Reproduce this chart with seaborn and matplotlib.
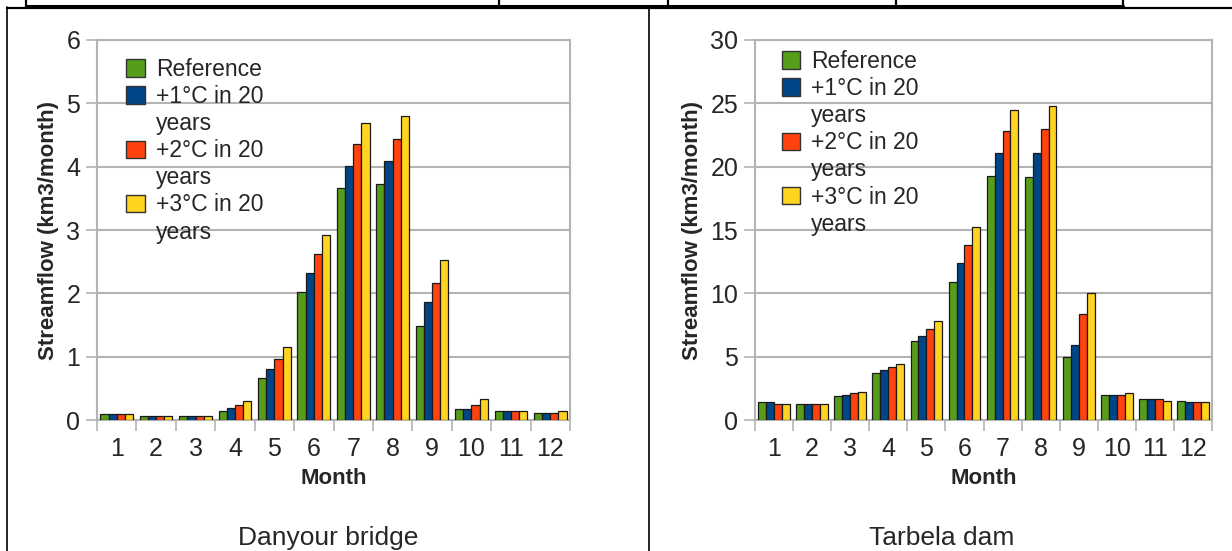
import pandas as pd
import seaborn as sns
import matplotlib.pyplot as plt
from matplotlib.patches import Patch
from matplotlib.lines import Line2D
from matplotlib.ticker import FixedLocator

# data
months = [1, 2, 3, 4, 5, 6, 7, 8, 9, 10, 11, 12]
scenarios = ["Reference", "+1°C in 20 years", "+2°C in 20 years", "+3°C in 20 years"]
colors = ["#579D1C", "#004586", "#FF420E", "#FFD320"]

danyour_ref = [0.09, 0.07, 0.07, 0.14, 0.67, 2.02, 3.66, 3.73, 1.48, 0.18, 0.14, 0.115]
danyour_p1 = [0.09, 0.07, 0.07, 0.19, 0.81, 2.32, 4.01, 4.09, 1.86, 0.18, 0.14, 0.115]
danyour_p2 = [0.09, 0.07, 0.07, 0.23, 0.97, 2.62, 4.36, 4.43, 2.17, 0.24, 0.14, 0.115]
danyour_p3 = [0.09, 0.07, 0.07, 0.30, 1.16, 2.92, 4.69, 4.80, 2.53, 0.33, 0.14, 0.14]

tarbela_ref = [1.40, 1.26, 1.87, 3.71, 6.26, 10.9, 19.3, 19.2, 5.0, 2.0, 1.63, 1.52]
tarbela_p1 = [1.40, 1.26, 1.97, 3.92, 6.63, 12.4, 21.1, 21.1, 5.9, 2.0, 1.63, 1.40]
tarbela_p2 = [1.26, 1.26, 2.10, 4.16, 7.20, 13.8, 22.8, 23.0, 8.4, 2.0, 1.63, 1.40]
tarbela_p3 = [1.26, 1.26, 2.20, 4.42, 7.80, 15.2, 24.5, 24.8, 10.0, 2.1, 1.50, 1.40]


def long_frame(series):
    rows = []
    for name, vals in zip(scenarios, series):
        for m, v in zip(months, vals):
            rows.append({"Month": str(m), "Scenario": name, "Flow": v})
    return pd.DataFrame(rows)


sns.set_style("white")
plt.rcParams["font.family"] = ["Liberation Sans", "DejaVu Sans"]

fig = plt.figure(figsize=(12.32, 5.51), dpi=100)
W, H = 1232, 551

grid_col = "#b3b3b3"

panels = [
    (danyour_ref, danyour_p1, danyour_p2, danyour_p3, 97, 570, 6, 1, "Danyour bridge", 328, 0.062, 0.953),
    (tarbela_ref, tarbela_p1, tarbela_p2, tarbela_p3, 755, 1212, 30, 5, "Tarbela dam", 942, 0.058, 0.974),
]

for ref, p1, p2, p3, x0, x1, ymax, ystep, title, tx, lx, ly in panels:
    ax = fig.add_axes([x0 / W, 1 - 420 / H, (x1 - x0) / W, 380 / H])
    df = long_frame([ref, p1, p2, p3])
    sns.barplot(data=df, x="Month", y="Flow", hue="Scenario", palette=colors,
                saturation=1, width=0.83, edgecolor="#1a1a1a", linewidth=0.9,
                legend=False, ax=ax, zorder=3)
    ax.set_xlim(-0.5, 11.5)
    ax.set_ylim(0, ymax)
    ax.set_yticks(range(0, ymax + 1, ystep))
    ax.yaxis.grid(True, color=grid_col, linewidth=1.5, zorder=0)
    ax.set_axisbelow(True)
    for s in ax.spines.values():
        s.set_color(grid_col)
        s.set_linewidth(1.5)
    ax.tick_params(axis="y", length=8, width=1.2, color=grid_col, labelsize=18, pad=4,
                   left=True)
    ax.tick_params(axis="x", which="major", length=0, labelsize=18, pad=12)
    ax.xaxis.set_minor_locator(FixedLocator([i - 0.5 for i in range(13)]))
    ax.tick_params(axis="x", which="minor", length=8, width=1.2, color=grid_col, bottom=True)
    ax.set_xlabel("Month", fontsize=16, fontweight="bold", labelpad=5)
    ax.set_ylabel("Streamflow (km3/month)", fontsize=16, fontweight="bold", labelpad=5)

    # legend: handle beside the first line, wrapped "years" on its own row
    handles, labels = [], []
    for name, c in zip(scenarios, colors):
        head, _, tail = name.partition(" years")
        handles.append(Patch(facecolor=c, edgecolor="#333333", linewidth=1))
        labels.append(head)
        if name != "Reference":
            handles.append(Patch(facecolor="none", edgecolor="none"))
            labels.append("years")
    ax.legend(handles, labels, loc="upper left", bbox_to_anchor=(lx, ly),
              frameon=False, fontsize=16.5, handlelength=0.8, handleheight=0.8,
              handletextpad=0.5, labelspacing=0.18, borderpad=0, borderaxespad=0)

    fig.text(tx / W, 1 - 538 / H, title, fontsize=19, ha="center", va="center")

# surrounding document table lines
lk = dict(color="black", transform=fig.transFigure)
fig.add_artist(Line2D([7 / W, 1], [1 - 7.5 / H, 1 - 7.5 / H], linewidth=1.6, **lk))
fig.add_artist(Line2D([26 / W, 1123 / W], [1 - 6 / H, 1 - 6 / H], linewidth=2.2, **lk))
for xv in [26, 499, 668, 896, 1123]:
    fig.add_artist(Line2D([xv / W, xv / W], [1 - 7 / H, 1], linewidth=1.6, **lk))
fig.add_artist(Line2D([7 / W, 7 / W], [0, 1 - 7 / H], linewidth=1.2, **lk))
fig.add_artist(Line2D([649 / W, 649 / W], [0, 1 - 7 / H], linewidth=1.2, **lk))

fig.savefig("out.png", dpi=100)
